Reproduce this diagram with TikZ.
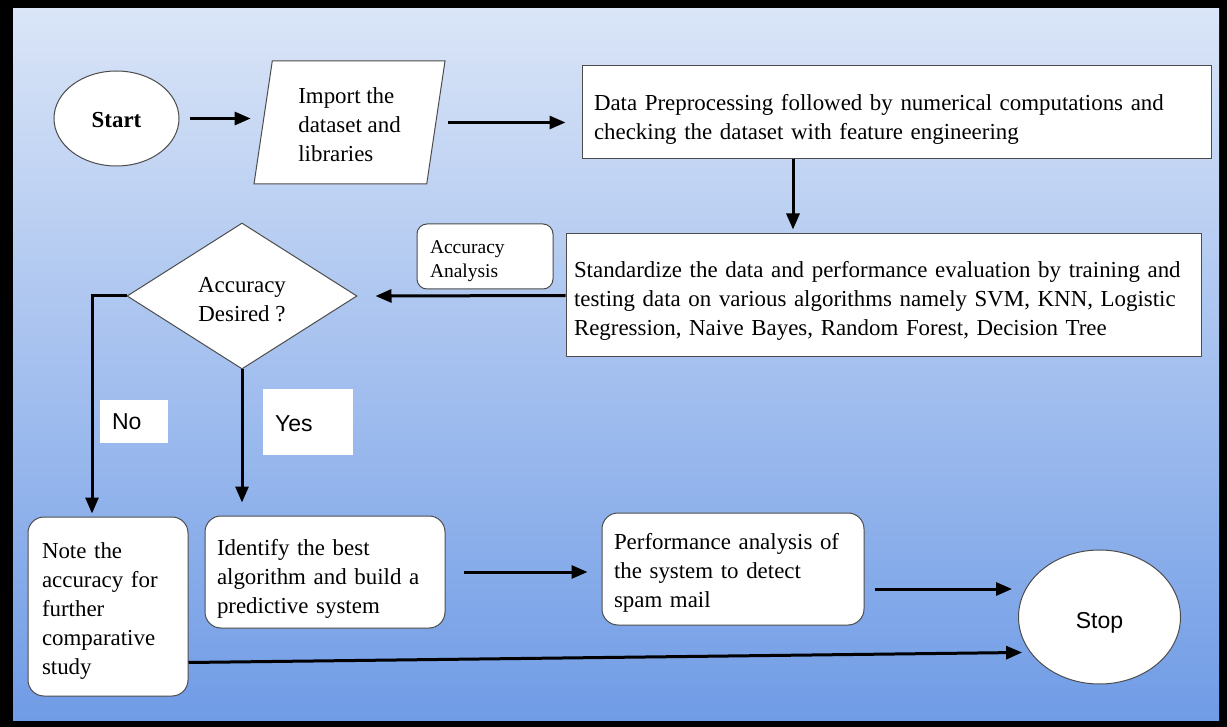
\documentclass[tikz,border=0pt]{standalone}
\usepackage{fontspec}
\setmainfont{Liberation Serif}
\setsansfont{Liberation Sans}
\usetikzlibrary{shapes.geometric,arrows.meta}

\definecolor{bgtop}{RGB}{218,229,247}
\definecolor{bgmid}{RGB}{168,194,238}
\definecolor{bgbot}{RGB}{112,156,230}

\newcommand{\flowtxt}{\fontsize{22.9}{29}\selectfont}
\newcommand{\notetxt}{\fontsize{19.5}{24}\selectfont}
\newcommand{\tagtxt}{\sffamily\fontsize{23}{28}\selectfont}
\newcommand{\toppad}[1]{\rule{0pt}{#1}}% pushes a text block down a little

\tikzset{
  box/.style={draw=black!70, line width=1pt, fill=white, align=left, inner ysep=0pt, font=\flowtxt},
  rbox/.style={box, rounded corners=16pt},
  flow/.style={line width=3pt, -{Triangle[length=16pt,width=13pt]}},
  tag/.style={fill=white, inner sep=0pt, align=left, font=\tagtxt}
}

\begin{document}
\begin{tikzpicture}[x=1pt,y=-1pt]
% frame and background
\fill[black] (0,0) rectangle (1227,727);
\shade[top color=bgtop, middle color=bgmid, bottom color=bgbot] (13,9) rectangle (1219,720);

% first row
\node[box, ellipse, align=center, minimum width=125pt, minimum height=95pt, font=\flowtxt\bfseries] (start) at (116.5,118.5) {\toppad{19pt}Start};
\node[box, trapezium, trapezium left angle=77, trapezium right angle=103, trapezium stretches body,
      minimum width=191pt, minimum height=123pt] (import) at (349.5,122.5) {\toppad{21pt}Import the\\dataset and\\libraries};
\node[box, minimum width=629pt, minimum height=93pt, text width=605pt, inner xsep=12pt] (data) at (896.5,112.5)
  {\toppad{30pt}Data Preprocessing followed by numerical computations and\\checking the dataset with feature engineering};

% second row
\node[box, minimum width=635pt, minimum height=123pt, text width=619pt, inner xsep=8pt] (train) at (883.5,295.5)
  {\toppad{26pt}Standardize the data and performance evaluation by training and\\testing data on various algorithms namely SVM, KNN, Logistic\\Regression, Naive Bayes, Random Forest, Decision Tree};
\node[rbox, rounded corners=10pt, minimum width=136pt, minimum height=65pt, text width=110pt, inner xsep=13pt, font=\notetxt] (analysis) at (485,256.5)
  {\toppad{23pt}Accuracy\\Analysis};
\node[box, diamond, align=center, inner sep=0pt, minimum width=230pt, minimum height=146pt] (acc) at (242,296) {\toppad{23pt}Accuracy\\Desired ?};

% branch labels
\node[tag, minimum width=68pt, minimum height=43pt, text width=44pt, inner xsep=12pt] (no) at (134,421.5) {No};
\node[tag, minimum width=90pt, minimum height=66pt, text width=66pt, inner xsep=12pt] (yes) at (308,422) {\toppad{19pt}Yes};

% last row
\node[rbox, minimum width=160pt, minimum height=179pt, text width=132pt, inner xsep=14pt] (note) at (108,606.5)
  {\toppad{25pt}Note the\\accuracy for\\further\\comparative\\study};
\node[rbox, minimum width=240pt, minimum height=112pt, text width=216pt, inner xsep=12pt] (best) at (325,572)
  {\toppad{29pt}Identify the best\\algorithm and build a\\predictive system};
\node[rbox, minimum width=262pt, minimum height=112pt, text width=238pt, inner xsep=12pt] (perf) at (733,569)
  {\toppad{24pt}Performance analysis of\\the system to detect\\spam mail};
\node[box, ellipse, align=center, minimum width=162pt, minimum height=134pt, font=\tagtxt] (stop) at (1099.5,617) {\toppad{27pt}Stop};

% connectors
\coordinate (p1) at ([xshift=10pt,yshift=-20pt]perf.east);
\draw[flow] ([xshift=10pt]start.east) -- ([xshift=-12pt]start.east -| import.west);
\draw[flow] ([xshift=12pt]import.east) -- ([xshift=-16pt]import.east -| data.west);
\draw[flow] ([xshift=-103.5pt]data.south) -- ([xshift=-103.5pt,yshift=4pt]data.south |- train.north);
\draw[flow] (train.west) -- ([xshift=18pt]acc.east);
\draw[flow] (acc.west) -| ([xshift=-16pt,yshift=3pt]note.north);
\draw[flow] (acc.south) -- ([yshift=13pt]acc.south |- best.north);
\draw[flow] ([xshift=18pt]best.east) -- ([xshift=-14pt]best.east -| perf.west);
\draw[flow] (p1) -- ([xshift=-6pt]p1 -| stop.west);
\draw[flow, shorten >=8pt] ([yshift=-56pt]note.east) -- (stop.207);
\end{tikzpicture}
\end{document}
